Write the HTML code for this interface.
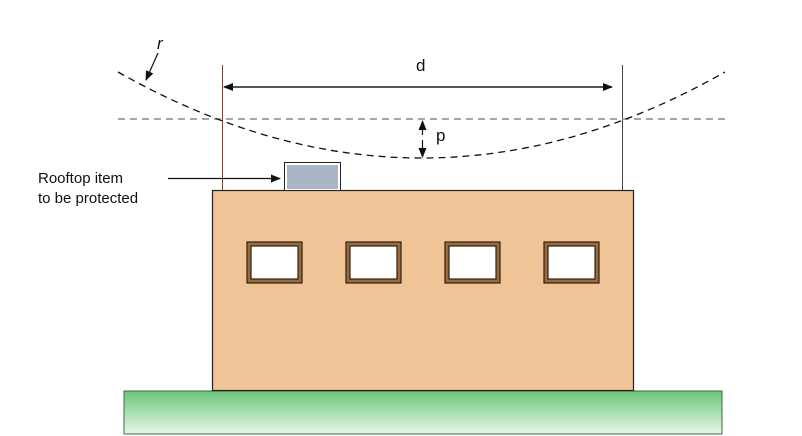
<!DOCTYPE html>
<html><head><style>body{margin:0;background:#fff}svg{display:block}</style></head>
<body>
<svg width="802" height="436" xmlns="http://www.w3.org/2000/svg" font-family="Liberation Sans, sans-serif">
<defs>
<linearGradient id="g" x1="0" y1="0" x2="0" y2="1"><stop offset="0" stop-color="#6cc57a"/><stop offset="1" stop-color="#e6f7e6"/></linearGradient>
<marker id="a" markerWidth="10" markerHeight="8" refX="9" refY="4" orient="auto" markerUnits="userSpaceOnUse"><path d="M0,0 L10,4 L0,8 Z" fill="#111"/></marker>
</defs>
<rect x="124" y="391" width="598" height="43" fill="url(#g)" stroke="#3a6a40" stroke-width="1"/>
<rect x="212.5" y="190.5" width="421" height="200" fill="#efc497" stroke="#222" stroke-width="1.2"/>
<g fill="#fff" stroke="#2a2014" stroke-width="1.2">
<rect x="247" y="242" width="55" height="41" fill="#9b6b3c"/><rect x="251" y="246" width="47" height="33"/>
<rect x="346" y="242" width="55" height="41" fill="#9b6b3c"/><rect x="350" y="246" width="47" height="33"/>
<rect x="445" y="242" width="55" height="41" fill="#9b6b3c"/><rect x="449" y="246" width="47" height="33"/>
<rect x="544" y="242" width="55" height="41" fill="#9b6b3c"/><rect x="548" y="246" width="47" height="33"/>
</g>
<rect x="284.5" y="162.5" width="56" height="28" fill="#fff" stroke="#222"/>
<rect x="287" y="165" width="51" height="24" fill="#a8b6c6"/>
<line x1="222.5" y1="65" x2="222.5" y2="190" stroke="#8a3a30" stroke-width="1"/>
<line x1="622.5" y1="65" x2="622.5" y2="190" stroke="#444" stroke-width="1"/>
<line x1="118" y1="119" x2="725" y2="119" stroke="#888" stroke-width="1.5" stroke-dasharray="7,5"/>
<path d="M118,72 Q422,244 725,72" fill="none" stroke="#111" stroke-width="1.3" stroke-dasharray="7,5"/>
<line x1="232" y1="87" x2="612" y2="87" stroke="#111" stroke-width="1.2" marker-end="url(#a)"/>
<line x1="612" y1="87" x2="224" y2="87" stroke="#111" stroke-width="1.2" marker-end="url(#a)"/>
<line x1="422.5" y1="135" x2="422.5" y2="121" stroke="#111" stroke-width="1.2" marker-end="url(#a)"/>
<line x1="422.5" y1="140" x2="422.5" y2="157" stroke="#111" stroke-width="1.2" marker-end="url(#a)"/>
<line x1="158" y1="53" x2="146" y2="80" stroke="#111" stroke-width="1.2" marker-end="url(#a)"/>
<line x1="168" y1="178.5" x2="280" y2="178.5" stroke="#111" stroke-width="1.2" marker-end="url(#a)"/>
<text x="416" y="71" font-size="17" fill="#111">d</text>
<text x="436" y="141" font-size="17" fill="#111">p</text>
<text x="157" y="49" font-size="17" font-style="italic" fill="#111">r</text>
<text x="38" y="183" font-size="15" fill="#111">Rooftop item</text>
<text x="38" y="203" font-size="15" fill="#111">to be protected</text>
</svg>
</body></html>
